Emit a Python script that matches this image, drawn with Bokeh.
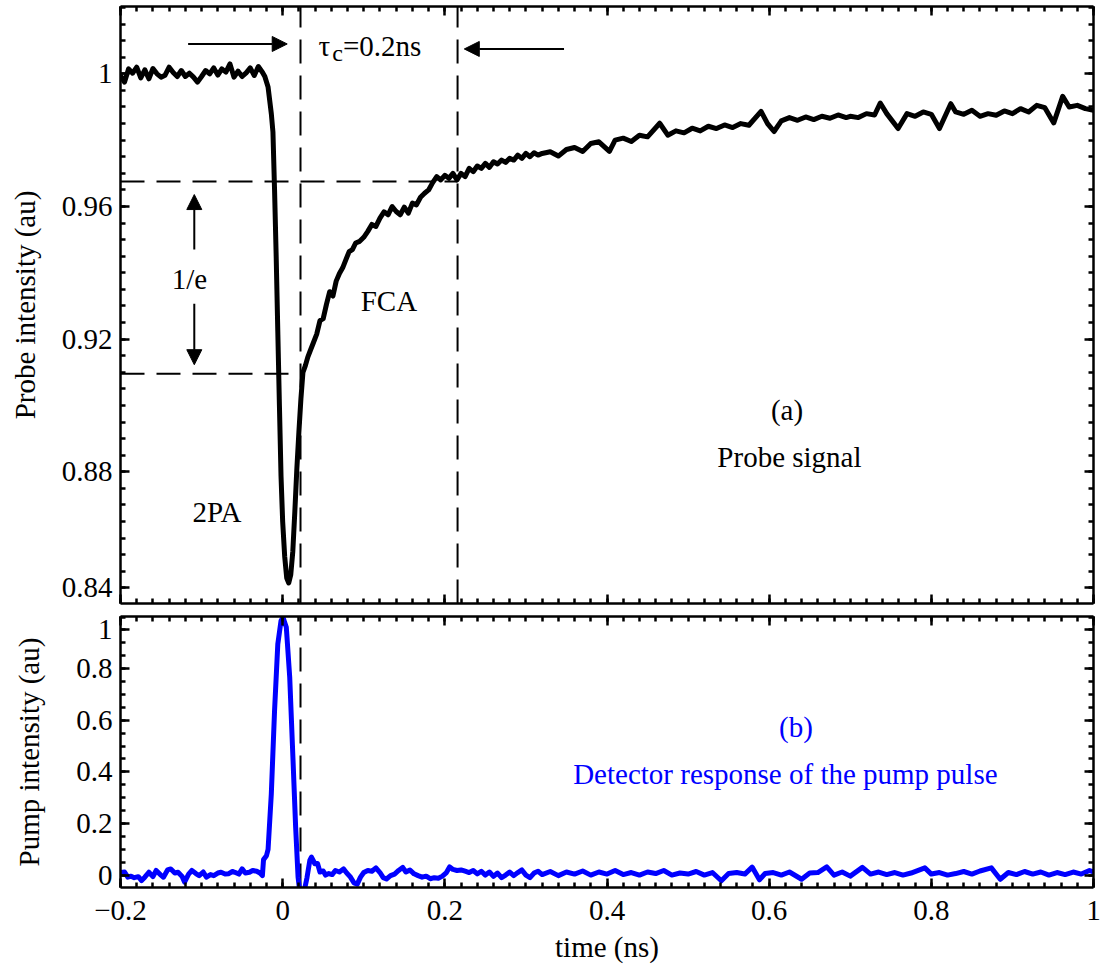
from bokeh.plotting import figure
from bokeh.models import FixedTicker, Range1d, Label, Arrow, NormalHead, LinearAxis
from bokeh.layouts import column
from bokeh.embed import file_html
from bokeh.resources import INLINE

FONT = "Liberation Serif"
FS = "29px"

# ---------------- data ----------------
PROBE_T = [
    -0.200, -0.195, -0.190, -0.185, -0.180, -0.175, -0.170, -0.165, -0.160, -0.155,
    -0.150, -0.145, -0.140, -0.135, -0.130, -0.125, -0.120, -0.115, -0.110, -0.105,
    -0.100, -0.095, -0.090, -0.085, -0.080, -0.075, -0.070, -0.065, -0.060, -0.055,
    -0.050, -0.045, -0.040, -0.035, -0.030, -0.025,
    -0.022, -0.018, -0.014, -0.012, -0.010, -0.008, -0.006, -0.004, -0.002, 0.000,
    0.0025, 0.005, 0.0075, 0.010, 0.0125, 0.015, 0.0175, 0.020, 0.0225, 0.025,
    0.028, 0.031, 0.034, 0.038,
    0.042, 0.046, 0.050, 0.054, 0.058, 0.062, 0.066, 0.070, 0.074, 0.078,
    0.082, 0.086, 0.090, 0.095, 0.100, 0.105, 0.110, 0.115, 0.120, 0.125,
    0.130, 0.135, 0.140, 0.145, 0.150, 0.155, 0.160, 0.165, 0.170, 0.175,
    0.180, 0.185, 0.190, 0.195, 0.200, 0.205, 0.210, 0.215, 0.220, 0.225,
    0.230, 0.235, 0.240, 0.245, 0.250, 0.255, 0.260, 0.265, 0.270, 0.275,
    0.280, 0.285, 0.290, 0.295, 0.300, 0.305, 0.310, 0.315, 0.320,
    0.330, 0.340, 0.350, 0.360, 0.370, 0.380, 0.390, 0.403, 0.410, 0.420,
    0.430, 0.440, 0.450, 0.465, 0.475, 0.485, 0.495, 0.505, 0.515, 0.525,
    0.535, 0.545, 0.555, 0.565, 0.575, 0.590, 0.598, 0.606, 0.615, 0.625,
    0.635, 0.645, 0.655, 0.665, 0.675, 0.685, 0.695,
    0.700, 0.710, 0.720, 0.730, 0.737, 0.745, 0.759, 0.770, 0.780, 0.790,
    0.800, 0.810, 0.824, 0.830, 0.840, 0.850, 0.860, 0.870, 0.880, 0.890,
    0.900, 0.910, 0.920, 0.930, 0.940, 0.951, 0.962, 0.970, 0.980, 0.990, 1.000,
]
PROBE_V = [
    0.9995, 0.9975, 1.0015, 1.0002, 1.0020, 0.9988, 1.0012, 0.9985, 1.0016, 1.0000,
    0.9990, 0.9996, 1.0020, 1.0004, 0.9992, 1.0010, 0.9992, 1.0002, 0.9990, 0.9975,
    0.9992, 1.0010, 1.0000, 1.0018, 0.9996, 1.0015, 1.0005, 1.0030, 0.9990, 1.0008,
    0.9992, 1.0003, 1.0018, 0.9995, 1.0022, 1.0005,
    0.9992, 0.9960, 0.9880, 0.9825, 0.9650, 0.9450, 0.9223, 0.9000, 0.8785, 0.8650,
    0.8545, 0.8480, 0.8465, 0.8490, 0.8560, 0.8680, 0.8810, 0.8920, 0.9020, 0.9100,
    0.9120, 0.9146, 0.9165, 0.9190,
    0.9215, 0.9256, 0.9262, 0.9305, 0.9343, 0.9330, 0.9375, 0.9398, 0.9415, 0.9440,
    0.9464, 0.9470, 0.9490, 0.9495, 0.9507, 0.9525, 0.9546, 0.9540, 0.9565, 0.9584,
    0.9575, 0.9600, 0.9585, 0.9575, 0.9598, 0.9580, 0.9610, 0.9605, 0.9628, 0.9640,
    0.9650, 0.9672, 0.9690, 0.9680, 0.9694, 0.9685, 0.9700, 0.9680, 0.9700, 0.9690,
    0.9715, 0.9705, 0.9722, 0.9715, 0.9730, 0.9718, 0.9735, 0.9728, 0.9740, 0.9733,
    0.9745, 0.9740, 0.9755, 0.9745, 0.9760, 0.9750, 0.9762, 0.9755, 0.9760,
    0.9765, 0.9752, 0.9772, 0.9778, 0.9766, 0.9790, 0.9795, 0.9766, 0.9800, 0.9806,
    0.9796, 0.9815, 0.9810, 0.9851, 0.9815, 0.9828, 0.9822, 0.9836, 0.9828, 0.9842,
    0.9835, 0.9846, 0.9838, 0.9850, 0.9845, 0.9887, 0.9850, 0.9826, 0.9858, 0.9868,
    0.9860, 0.9870, 0.9862, 0.9872, 0.9866, 0.9876, 0.9868,
    0.9872, 0.9868, 0.9880, 0.9876, 0.9912, 0.9880, 0.9835, 0.9880, 0.9872, 0.9885,
    0.9878, 0.9835, 0.9910, 0.9885, 0.9878, 0.9890, 0.9872, 0.9880, 0.9875, 0.9888,
    0.9880, 0.9895, 0.9885, 0.9905, 0.9898, 0.9852, 0.9932, 0.9900, 0.9905, 0.9895, 0.9890,
]

PUMP_T = [
    -0.200, -0.195, -0.191, -0.187, -0.183, -0.178, -0.174, -0.170, -0.165, -0.160,
    -0.156, -0.151, -0.147, -0.142, -0.138, -0.133, -0.129, -0.124, -0.121, -0.116,
    -0.112, -0.107, -0.103, -0.098, -0.094, -0.089, -0.085, -0.080, -0.076, -0.071,
    -0.067, -0.062, -0.059, -0.054, -0.050, -0.046, -0.041, -0.037, -0.032, -0.028,
    -0.025, -0.0236, -0.020, -0.018, -0.014, -0.010, -0.006, -0.002, 0.0004, 0.0045,
    0.0087, 0.0128, 0.016, 0.019, 0.021, 0.024, 0.027, 0.030, 0.0335, 0.0355,
    0.0397, 0.043, 0.046, 0.050, 0.053, 0.057, 0.061, 0.065, 0.070, 0.075,
    0.079, 0.083, 0.088, 0.092, 0.096, 0.100, 0.105, 0.110, 0.115, 0.120,
    0.124, 0.128, 0.133, 0.138, 0.143, 0.148, 0.152, 0.157, 0.162, 0.167,
    0.172, 0.177, 0.182, 0.187, 0.192, 0.197, 0.202, 0.206, 0.210, 0.215,
    0.220, 0.225, 0.230, 0.235, 0.240, 0.245, 0.250, 0.255, 0.260, 0.265,
    0.270, 0.275, 0.280, 0.285, 0.290, 0.295, 0.300, 0.305, 0.310, 0.315,
    0.320, 0.330, 0.340, 0.350, 0.360, 0.370, 0.380, 0.390, 0.400, 0.410,
    0.420, 0.430, 0.440, 0.450, 0.460, 0.470, 0.480, 0.490, 0.500, 0.510,
    0.520, 0.530, 0.541, 0.550, 0.560, 0.570, 0.579, 0.588, 0.595, 0.605,
    0.615, 0.625, 0.640, 0.650, 0.660, 0.671, 0.680, 0.690, 0.700, 0.715,
    0.725, 0.735, 0.745, 0.755, 0.765, 0.775, 0.792, 0.800, 0.810, 0.820,
    0.830, 0.840, 0.850, 0.860, 0.874, 0.885, 0.895, 0.905, 0.915, 0.925,
    0.935, 0.945, 0.955, 0.965, 0.975, 0.985, 0.995, 1.000,
]
PUMP_V = [
    0.010, 0.012, -0.008, -0.004, -0.010, -0.006, -0.021, -0.008, 0.011, -0.006,
    0.018, 0.002, -0.008, 0.020, 0.024, 0.008, 0.011, -0.005, -0.027, 0.004,
    0.018, 0.006, -0.002, 0.012, -0.008, 0.002, -0.002, 0.008, 0.011, 0.004,
    0.005, 0.014, 0.011, 0.004, 0.024, 0.008, 0.011, 0.018, 0.015, 0.008,
    -0.002, 0.060, 0.075, 0.100, 0.315, 0.637, 0.895, 0.986, 0.999, 0.960,
    0.766, 0.444, 0.186, -0.008, -0.060, -0.060, -0.055, -0.010, 0.057, 0.070,
    0.044, 0.045, 0.012, 0.016, 0.000, 0.006, 0.002, 0.018, 0.012, 0.024,
    0.008, -0.005, -0.030, -0.035, -0.008, 0.010, 0.018, 0.015, 0.028, 0.010,
    -0.010, -0.015, -0.002, 0.004, 0.018, 0.030, 0.012, 0.020, 0.005, -0.002,
    -0.008, -0.004, -0.014, -0.010, -0.012, -0.004, 0.010, 0.032, 0.022, 0.018,
    0.020, 0.015, 0.010, 0.018, 0.005, 0.015, 0.000, 0.012, -0.005, 0.008,
    -0.010, 0.000, 0.012, -0.002, 0.010, 0.020, 0.000, -0.010, 0.008, 0.015,
    0.002, 0.014, -0.002, 0.012, 0.004, 0.016, 0.000, 0.012, 0.004, 0.018,
    0.002, 0.010, 0.000, 0.012, 0.006, 0.018, 0.000, 0.008, 0.004, 0.014,
    0.000, 0.010, -0.022, 0.006, 0.010, 0.004, 0.031, -0.018, 0.006, 0.010,
    0.000, 0.012, -0.016, 0.008, 0.010, 0.032, 0.000, 0.012, -0.004, 0.030,
    0.004, 0.012, 0.002, 0.010, 0.000, 0.008, 0.028, 0.004, 0.010, 0.000,
    0.006, 0.014, 0.004, 0.016, 0.028, -0.016, 0.010, 0.002, 0.014, 0.004,
    0.012, 0.000, 0.010, 0.002, 0.012, 0.004, 0.018, 0.012,
]

X_TICKS = [-0.2, 0.0, 0.2, 0.4, 0.6, 0.8, 1.0]
X_TICK_LABELS = ["\u22120.2", "0", "0.2", "0.4", "0.6", "0.8", "1"]
TOP_Y_TICKS = [0.845, 0.88, 0.92, 0.96, 1.0]
TOP_Y_LABELS = ["0.84", "0.88", "0.92", "0.96", "1"]
BOT_Y_TICKS = [0.0, 0.2, 0.4, 0.6, 0.8, 0.95]
BOT_Y_LABELS = ["0", "0.2", "0.4", "0.6", "0.8", "1"]

# annotation values
TAU_LINES_X = [0.022, 0.2157]         # vertical dashed lines (top panel)
LEVEL_LINES_Y = [0.9675, 0.9096]      # horizontal dashed lines (1/e levels)
LEVEL_LINES_XEND = [0.2157, 0.022]

X_RANGE = (-0.2, 1.0)
TOP_RANGE = (0.8403, 1.0203)
BOT_RANGE = (-0.048, 1.002)

X_MINOR = [round(-0.2 + 0.02 * i, 3) for i in range(61)]
TOP_MINOR = [round(0.84 + 0.005 * i, 4) for i in range(37)]
BOT_MINOR = [round(-0.05 + 0.05 * i, 3) for i in range(22)]

DASH = "24 12"


def style_axis(ax, ticks, minor, labels=None):
    ax.ticker = FixedTicker(ticks=ticks, minor_ticks=minor)
    ax.axis_line_width = 2.5
    ax.axis_line_color = "black"
    ax.major_tick_in = 9
    ax.major_tick_out = 0
    ax.minor_tick_in = 5
    ax.minor_tick_out = 0
    ax.major_tick_line_width = 2.5
    ax.minor_tick_line_width = 2.5
    ax.major_tick_line_color = "black"
    ax.minor_tick_line_color = "black"
    ax.major_label_text_font = FONT
    ax.axis_label_text_font = FONT
    ax.axis_label_text_font_style = "normal"
    ax.axis_label_text_font_size = FS
    ax.axis_label_text_color = "black"
    ax.major_label_text_color = "black"
    if labels is not None:
        ax.major_label_overrides = dict(zip(ticks, labels))
        ax.major_label_text_font_size = FS
        ax.major_label_standoff = 8
    else:
        ax.major_label_overrides = {t: "" for t in ticks}
        ax.major_label_text_font_size = "1px"
        ax.major_label_standoff = 0


def make_fig(height, yr, top, bottom):
    p = figure(width=1103, height=height, x_range=Range1d(*X_RANGE), y_range=Range1d(*yr),
               output_backend="svg", toolbar_location=None,
               min_border_left=120, min_border_right=10,
               min_border_top=top, min_border_bottom=bottom)
    p.xgrid.grid_line_color = None
    p.ygrid.grid_line_color = None
    p.outline_line_color = None
    p.background_fill_color = "white"
    p.border_fill_color = "white"
    return p


# ---------------- top panel ----------------
p1 = make_fig(609, TOP_RANGE, 6, 6)
style_axis(p1.xaxis[0], X_TICKS, X_MINOR)
style_axis(p1.yaxis[0], TOP_Y_TICKS, TOP_MINOR, TOP_Y_LABELS)
p1.yaxis[0].axis_label = "Probe intensity (au)"
p1.yaxis[0].axis_label_standoff = 18
ax_t = LinearAxis()
style_axis(ax_t, X_TICKS, X_MINOR)
p1.add_layout(ax_t, "above")
ax_r = LinearAxis()
style_axis(ax_r, TOP_Y_TICKS, TOP_MINOR)
p1.add_layout(ax_r, "right")

# dashed guide lines
p1.segment(x0=TAU_LINES_X, y0=[TOP_RANGE[0]] * 2, x1=TAU_LINES_X, y1=[TOP_RANGE[1]] * 2,
           line_color="black", line_width=2, line_dash=DASH)
p1.segment(x0=[X_RANGE[0]] * 2, y0=LEVEL_LINES_Y, x1=LEVEL_LINES_XEND, y1=LEVEL_LINES_Y,
           line_color="black", line_width=2, line_dash=DASH)

p1.line(PROBE_T, PROBE_V, line_color="black", line_width=5, line_join="round")

# arrows
def arrow(p, xs, ys, xe, ye):
    p.add_layout(Arrow(end=NormalHead(size=15, fill_color="black", line_color="black", line_width=1),
                       x_start=xs, y_start=ys, x_end=xe, y_end=ye,
                       line_color="black", line_width=2))

arrow(p1, -0.1166, 1.009, 0.0056, 1.009)
arrow(p1, 0.347, 1.0075, 0.224, 1.0075)
arrow(p1, -0.109, 0.947, -0.109, 0.9636)
arrow(p1, -0.109, 0.9307, -0.109, 0.9123)


def label(p, x, y, text, color="black", size=FS, align="center"):
    p.add_layout(Label(x=x, y=y, text=text, text_font=FONT, text_font_size=size,
                       text_color=color, text_align=align, text_baseline="middle"))

label(p1, 0.0514, 1.0083, "\u03c4")
label(p1, 0.0676, 1.0062, "c", size="24px")
label(p1, 0.0744, 1.0083, "=0.2ns", align="left")
label(p1, -0.115, 0.938, "1/e")
label(p1, 0.131, 0.9315, "FCA")
label(p1, -0.081, 0.868, "2PA")
label(p1, 0.622, 0.8987, "(a)")
label(p1, 0.625, 0.8845, "Probe signal")

# ---------------- bottom panel ----------------
p2 = make_fig(360, BOT_RANGE, 7, 82)
style_axis(p2.xaxis[0], X_TICKS, X_MINOR, X_TICK_LABELS)
p2.xaxis[0].major_label_standoff = 13
p2.xaxis[0].axis_label = "time (ns)"
p2.xaxis[0].axis_label_standoff = 8
style_axis(p2.yaxis[0], BOT_Y_TICKS, BOT_MINOR, BOT_Y_LABELS)
p2.yaxis[0].axis_label = "Pump intensity (au)"
p2.yaxis[0].axis_label_standoff = 28
ax_t2 = LinearAxis()
style_axis(ax_t2, X_TICKS, X_MINOR)
p2.add_layout(ax_t2, "above")
ax_r2 = LinearAxis()
style_axis(ax_r2, BOT_Y_TICKS, BOT_MINOR)
p2.add_layout(ax_r2, "right")

p2.segment(x0=TAU_LINES_X[:1], y0=[BOT_RANGE[0]], x1=TAU_LINES_X[:1], y1=[BOT_RANGE[1]],
           line_color="black", line_width=2, line_dash=DASH)
p2.line(PUMP_T, PUMP_V, line_color="#0000ff", line_width=5, line_join="round")

label(p2, 0.633, 0.5755, "(b)", color="#0000ff")
label(p2, 0.620, 0.3935, "Detector response of the pump pulse", color="#0000ff")

layout = column(p1, p2, spacing=0)
open("out.html", "w").write(file_html(layout, INLINE))
